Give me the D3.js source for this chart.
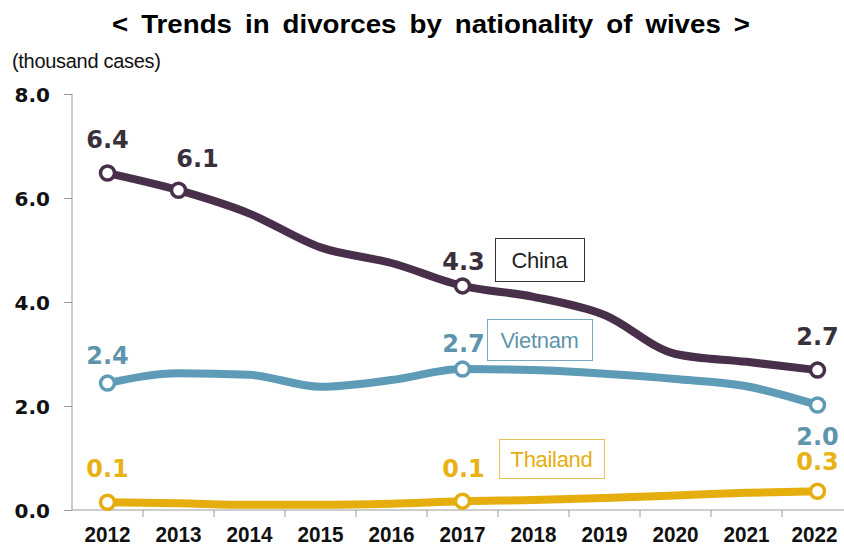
<!DOCTYPE html>
<html>
<head>
<meta charset="utf-8">
<script src="https://cdn.jsdelivr.net/npm/d3@7"></script>
<style>
  body { margin: 0; background: #fff; }
  svg { display: block; }
</style>
</head>
<body>
<div id="chart"></div>
<script>
// data (thousand cases)
var years = ['2012', '2013', '2014', '2015', '2016', '2017', '2018', '2019', '2020', '2021', '2022'];
var china = [6.48, 6.15, 5.7, 5.05, 4.75, 4.31, 4.1, 3.75, 3.0, 2.85, 2.69];
var vietnam = [2.44, 2.63, 2.6, 2.37, 2.5, 2.71, 2.69, 2.62, 2.52, 2.38, 2.02];
var thailand = [0.15, 0.13, 0.1, 0.1, 0.12, 0.17, 0.19, 0.23, 0.28, 0.33, 0.36];
var yTicks = [0, 2, 4, 6, 8];
// value labels shown in the picture
var chinaLabels = [['2012', '6.4'], ['2013', '6.1'], ['2017', '4.3'], ['2022', '2.7']];
var vietnamLabels = [['2012', '2.4'], ['2017', '2.7'], ['2022', '2.0']];
var thailandLabels = [['2012', '0.1'], ['2017', '0.1'], ['2022', '0.3']];

var width = 844, height = 547;
var margin = { left: 72, top: 94, bottom: 37 };

var svg = d3.select('#chart').append('svg')
    .attr('width', width)
    .attr('height', height);

var x = d3.scaleBand().domain(years).range([margin.left, margin.left + 71 * years.length]);
var y = d3.scaleLinear().domain([0, 8]).range([height - margin.bottom, margin.top]);

// title
svg.append('text')
    .attr('x', 431)
    .attr('y', 33)
    .attr('text-anchor', 'middle')
    .style('font-family', 'Liberation Sans, Arial, sans-serif')
    .style('font-weight', 'bold')
    .style('font-size', '26px')
    .style('word-spacing', '5px')
    .attr('textLength', 638)
    .attr('lengthAdjust', 'spacingAndGlyphs')
    .text('< Trends in divorces by nationality of wives >');

svg.append('text')
    .attr('x', 12)
    .attr('y', 68)
    .style('font-family', 'Liberation Sans, Arial, sans-serif')
    .style('font-size', '20px')
    .style('letter-spacing', '-0.3px')
    .attr('fill', '#111')
    .text('(thousand cases)');

// axes
var yAxis = svg.append('g')
    .attr('transform', 'translate(' + margin.left + ',0)')
    .call(d3.axisLeft(y).tickValues(yTicks).tickSize(8).tickPadding(14).tickFormat(d3.format('.1f')));
yAxis.selectAll('line, path').attr('stroke', '#9a9a9a');
yAxis.select('.domain').attr('d', 'M0,' + y(8) + 'V' + y(0));
yAxis.selectAll('text')
    .style('font-family', 'DejaVu Sans, sans-serif')
    .style('font-weight', 'bold')
    .style('font-size', '20px')
    .attr('fill', '#111')
    .attr('dy', '0.36em');

var xAxis = svg.append('g')
    .attr('transform', 'translate(0,' + y(0) + ')')
    .call(d3.axisBottom(x).tickSize(0).tickPadding(16));
xAxis.select('.domain').attr('stroke', '#9a9a9a').attr('d', 'M' + margin.left + ',0H' + width);
xAxis.selectAll('text')
    .style('font-family', 'Liberation Sans, Arial, sans-serif')
    .style('font-weight', 'bold')
    .style('font-size', '22px')
    .attr('fill', '#111')
    .attr('textLength', 46)
    .attr('lengthAdjust', 'spacingAndGlyphs');
// last label sits against the right edge
xAxis.selectAll('.tick text')
    .filter(function (d) { return d === years[years.length - 1]; })
    .attr('x', -3);
// ticks sit between categories
xAxis.selectAll('.sep')
    .data(years.slice(1))
    .enter().append('line')
    .attr('class', 'sep')
    .attr('x1', function (d) { return x(d); })
    .attr('x2', function (d) { return x(d); })
    .attr('y1', 0)
    .attr('y2', 7)
    .attr('stroke', '#9a9a9a');

var series = [
    { name: 'China', values: china, color: '#48304a', labelColor: '#3a303c', labels: chinaLabels },
    { name: 'Vietnam', values: vietnam, color: '#5e9bb6', labelColor: '#5f95ac', labels: vietnamLabels },
    { name: 'Thailand', values: thailand, color: '#e5ae0e', labelColor: '#e8b215', labels: thailandLabels }
];

var line = d3.line()
    .curve(d3.curveMonotoneX)
    .x(function (d, i) { return x(years[i]) + x.bandwidth() / 2; })
    .y(function (d) { return y(d); });

series.forEach(function (s) {
    svg.append('path')
        .attr('d', line(s.values))
        .attr('fill', 'none')
        .attr('stroke', s.color)
        .attr('stroke-width', 8)
        .attr('stroke-linecap', 'round');
});

series.forEach(function (s) {
    var pts = years.map(function (yr, i) { return { year: yr, v: s.values[i] }; })
        .filter(function (d) {
            return s.labels.some(function (l) { return l[0] === d.year; });
        });
    svg.selectAll(null)
        .data(pts)
        .enter().append('circle')
        .attr('cx', function (d) { return x(d.year) + x.bandwidth() / 2; })
        .attr('cy', function (d) { return y(d.v); })
        .attr('r', 7)
        .attr('fill', '#fff')
        .attr('stroke', s.color)
        .attr('stroke-width', 3.5);
});

// label offsets relative to the point (pixel layout)
var labelOffsets = {
    'China': { '2012': [0, -25], '2013': [19, -23], '2017': [1, -16], '2022': [0, -25] },
    'Vietnam': { '2012': [0, -19], '2017': [1, -17], '2022': [0, 40] },
    'Thailand': { '2012': [0, -25], '2017': [1, -24], '2022': [0, -21] }
};

series.forEach(function (s) {
    svg.selectAll(null)
        .data(s.labels)
        .enter().append('text')
        .attr('x', function (d) { return x(d[0]) + x.bandwidth() / 2 + labelOffsets[s.name][d[0]][0]; })
        .attr('y', function (d) { return y(s.values[years.indexOf(d[0])]) + labelOffsets[s.name][d[0]][1]; })
        .attr('text-anchor', 'middle')
        .style('font-family', 'DejaVu Sans, sans-serif')
        .style('font-weight', 'bold')
        .style('font-size', '24px')
        .attr('fill', s.labelColor)
        .text(function (d) { return d[1]; });
});

// boxed series names
var boxes = [
    { name: 'China', x: 495, y: 238, w: 89, h: 43, stroke: '#333', color: '#222' },
    { name: 'Vietnam', x: 487, y: 319, w: 105, h: 41, stroke: '#7aa9bd', color: '#5f95ac' },
    { name: 'Thailand', x: 499, y: 439, w: 105, h: 39, stroke: '#e6c35a', color: '#e5ae0e' }
];
boxes.forEach(function (b) {
    svg.append('rect')
        .attr('x', b.x + 0.5)
        .attr('y', b.y + 0.5)
        .attr('width', b.w)
        .attr('height', b.h)
        .attr('fill', '#fff')
        .attr('stroke', b.stroke)
        .attr('stroke-width', 1);
    svg.append('text')
        .attr('x', b.x + b.w / 2)
        .attr('y', b.y + b.h / 2 + 8)
        .attr('text-anchor', 'middle')
        .style('font-family', 'Liberation Sans, Arial, sans-serif')
        .style('font-size', '22px')
        .style('letter-spacing', '-0.3px')
        .attr('fill', b.color)
        .text(b.name);
});
</script>
</body>
</html>
